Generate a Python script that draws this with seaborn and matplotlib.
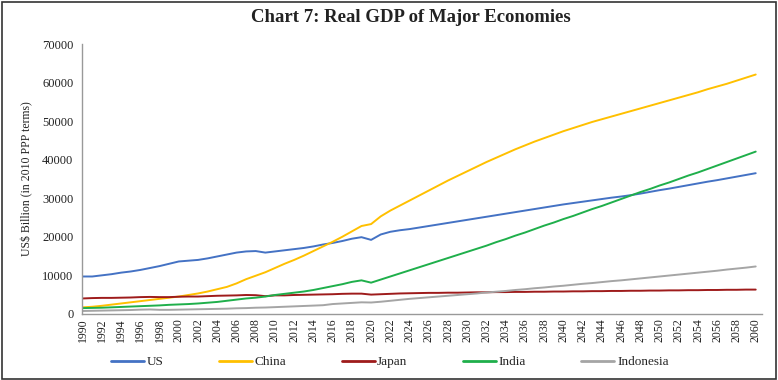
import matplotlib
matplotlib.use("Agg")
import matplotlib.pyplot as plt
import seaborn as sns
import pandas as pd
from matplotlib.patches import Rectangle

years = list(range(1990, 2061))

us = [9700, 9700, 10000, 10300, 10700, 11000, 11400, 11900, 12400, 13000,
      13600, 13800, 14000, 14400, 14900, 15400, 15900, 16200, 16300, 15900,
      16200, 16500, 16800, 17100, 17500, 18000, 18400, 18900, 19500, 19900,
      19200, 20600, 21300, 21700, 22000, 22400, 22800, 23200, 23600, 24000,
      24400, 24800, 25200, 25600, 26000, 26400, 26800, 27200, 27600, 28000,
      28400, 28750, 29100, 29450, 29800, 30150, 30450, 30800, 31200, 31650,
      32100, 32500, 32950, 33400, 33850, 34300, 34700, 35150, 35600, 36050,
      36500]

china = [1700, 1850, 2100, 2400, 2700, 3000, 3300, 3600, 3900, 4200,
         4500, 4900, 5300, 5800, 6400, 7000, 7900, 9000, 9900, 10800,
         11900, 13000, 14000, 15100, 16300, 17500, 18700, 20000, 21400, 22800,
         23300, 25300, 26800, 28100, 29400, 30700, 32000, 33300, 34600, 35800,
         37000, 38200, 39400, 40500, 41600, 42700, 43700, 44700, 45600, 46500,
         47400, 48200, 49000, 49800, 50500, 51200, 51900, 52600, 53300, 54000,
         54700, 55400, 56100, 56800, 57500, 58300, 59000, 59700, 60500, 61300,
         62100]

japan = [4000, 4100, 4150, 4150, 4200, 4250, 4350, 4400, 4350, 4350,
         4450, 4500, 4500, 4600, 4700, 4750, 4800, 4900, 4850, 4600,
         4800, 4800, 4900, 4950, 5000, 5050, 5100, 5200, 5250, 5250,
         5000, 5100, 5200, 5300, 5350, 5400, 5450, 5450, 5500, 5500,
         5550, 5600, 5600, 5650, 5650, 5700, 5700, 5750, 5750, 5800,
         5800, 5850, 5850, 5900, 5900, 5950, 5950, 6000, 6000, 6050,
         6050, 6100, 6100, 6150, 6150, 6200, 6200, 6250, 6250, 6300,
         6300]

india = [1500, 1550, 1600, 1700, 1800, 1900, 2000, 2100, 2200, 2350,
         2450, 2550, 2700, 2900, 3100, 3400, 3700, 4000, 4200, 4500,
         4900, 5200, 5500, 5800, 6200, 6700, 7200, 7700, 8300, 8700,
         8100, 8900, 9700, 10500, 11300, 12100, 12900, 13700, 14500, 15300,
         16100, 16900, 17700, 18600, 19400, 20300, 21100, 22000, 22900, 23700,
         24600, 25400, 26300, 27200, 28000, 28900, 29800, 30700, 31600, 32400,
         33300, 34100, 35000, 35900, 36700, 37600, 38500, 39400, 40300, 41200,
         42100]

indonesia = [750, 800, 850, 900, 950, 1000, 1100, 1150, 1050, 1050,
             1100, 1150, 1200, 1250, 1300, 1350, 1450, 1500, 1600, 1650,
             1750, 1850, 1950, 2050, 2150, 2250, 2550, 2700, 2850, 3000,
             2950, 3150, 3400, 3650, 3900, 4100, 4300, 4500, 4700, 4900,
             5100, 5300, 5550, 5750, 5950, 6200, 6400, 6650, 6850, 7100,
             7300, 7550, 7800, 8000, 8250, 8500, 8700, 8950, 9200, 9450,
             9700, 9950, 10200, 10450, 10700, 10950, 11200, 11500, 11750, 12000,
             12300]

series_names = ["US", "China", "Japan", "India", "Indonesia"]
colors = ["#4472C4", "#FFC000", "#9E1B1B", "#1FAF4B", "#A5A5A5"]

df = pd.concat([
    pd.DataFrame({"Year": years, "Value": vals, "Country": name})
    for name, vals in zip(series_names, [us, china, japan, india, indonesia])
])

sns.set_theme(style="white")
plt.rcParams["font.family"] = ["Liberation Serif", "DejaVu Serif"]

fig = plt.figure(figsize=(7.78, 3.8), dpi=100)
ax = fig.add_axes([0.105, 0.174, 0.875, 0.71])

sns.lineplot(data=df, x="Year", y="Value", hue="Country", hue_order=series_names,
             palette=colors, linewidth=1.4, ax=ax, legend=True)

ax.set_xlim(1989.9, 2060.7)
ax.set_ylim(0, 70000)
ax.set_yticks(range(0, 70001, 10000))
ax.set_xticks(years[::2])
ax.set_xticklabels([str(y) for y in years[::2]], rotation=90, fontsize=8.5, color="#222222")
ax.tick_params(axis="y", labelsize=9, colors="#222222", length=0, pad=6)
ax.tick_params(axis="x", length=0, pad=3)
ax.set_xlabel("")
ax.set_ylabel("US$ Billion (in 2010 PPP terms)", fontsize=8.5, color="#222222", labelpad=6)

for s in ["top", "right"]:
    ax.spines[s].set_visible(False)
for s in ["left", "bottom"]:
    ax.spines[s].set_color("#999999")
    ax.spines[s].set_linewidth(1.0)

handles, labels = ax.get_legend_handles_labels()
ax.get_legend().remove()
leg = fig.legend(handles, labels, loc="center", bbox_to_anchor=(0.501, 0.047), ncol=5,
                 frameon=False, fontsize=9.5, handlelength=2.5, columnspacing=4.2,
                 handletextpad=0.2)
for line in leg.get_lines():
    line.set_linewidth(2)

fig.text(0.528, 0.955, "Chart 7: Real GDP of Major Economies", ha="center", va="center",
         fontsize=13.5, fontweight="bold", color="#222222")

fig.patches.append(Rectangle((0.002, 0.003), 0.995, 0.992, transform=fig.transFigure,
                             fill=False, edgecolor="#333333", linewidth=1.2))

fig.savefig("out.png", dpi=100)
